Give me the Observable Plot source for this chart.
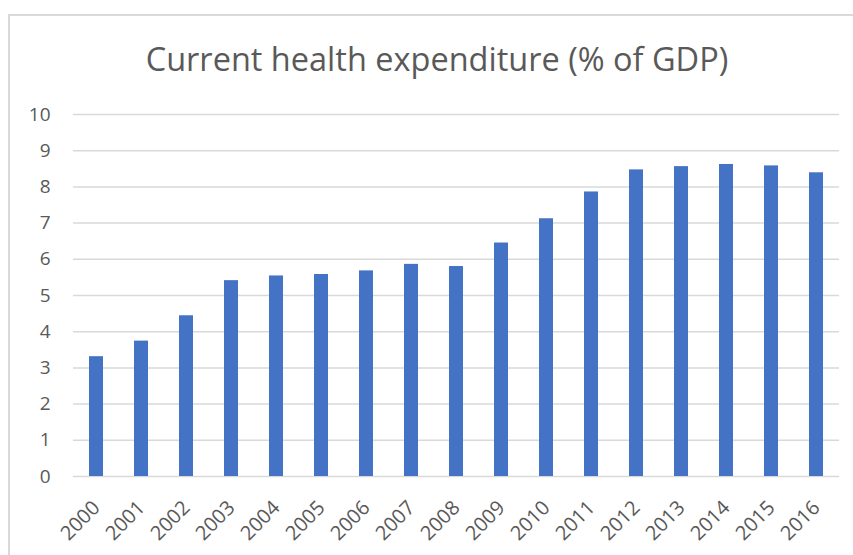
<!DOCTYPE html>
<html>
<head>
<meta charset="utf-8">
<script src="https://cdn.jsdelivr.net/npm/d3@7"></script>
<script src="https://cdn.jsdelivr.net/npm/@observablehq/plot@0.6"></script>
<style>
  html, body { margin: 0; padding: 0; background: #fff; overflow: hidden; }
  body { width: 853px; height: 555px; position: relative; font-family: "Open Sans", sans-serif; }
  #frame { position: absolute; left: 8px; top: 14px; width: 900px; height: 600px; border: 2px solid #d9d9d9; box-sizing: border-box; }
  #title { position: absolute; left: 0; top: 43px; width: 874px; text-align: center; font-size: 32.5px; color: #595959; line-height: 1; }
  #chart { position: absolute; left: 0; top: 95px; }
</style>
</head>
<body>
<div id="frame"></div>
<div id="title">Current health expenditure (% of GDP)</div>
<div id="chart"></div>
<script>
const years = ["2000","2001","2002","2003","2004","2005","2006","2007","2008","2009","2010","2011","2012","2013","2014","2015","2016"];
const values = [3.31, 3.74, 4.44, 5.41, 5.54, 5.58, 5.68, 5.86, 5.80, 6.45, 7.12, 7.86, 8.47, 8.56, 8.62, 8.58, 8.39];
const yTicks = [0,1,2,3,4,5,6,7,8,9,10];

const data = years.map((y, i) => ({year: y, value: values[i]}));

const chart = Plot.plot({
  width: 853,
  height: 460,
  marginLeft: 73,
  marginRight: 14,
  marginTop: 19,
  marginBottom: 79,
  style: {fontFamily: "Open Sans, sans-serif", fontSize: "20px", color: "#595959", background: "transparent"},
  x: {domain: years, paddingInner: 0.69, paddingOuter: 0.345, label: null},
  y: {domain: [0, 10], label: null},
  marks: [
    Plot.gridY(yTicks, {stroke: "#d9d9d9", strokeOpacity: 1, strokeWidth: 1.5}),
    Plot.barY(data, {x: "year", y: "value", fill: "#4472C4"}),
    Plot.axisY(yTicks, {tickSize: 0, tickPadding: 23, label: null, fill: "#595959", fontSize: 19}),
    Plot.axisX({tickSize: 0, tickPadding: 28, tickRotate: -45, label: null, fill: "#595959", fontSize: 20})
  ]
});
document.getElementById("chart").appendChild(chart);
</script>
</body>
</html>
